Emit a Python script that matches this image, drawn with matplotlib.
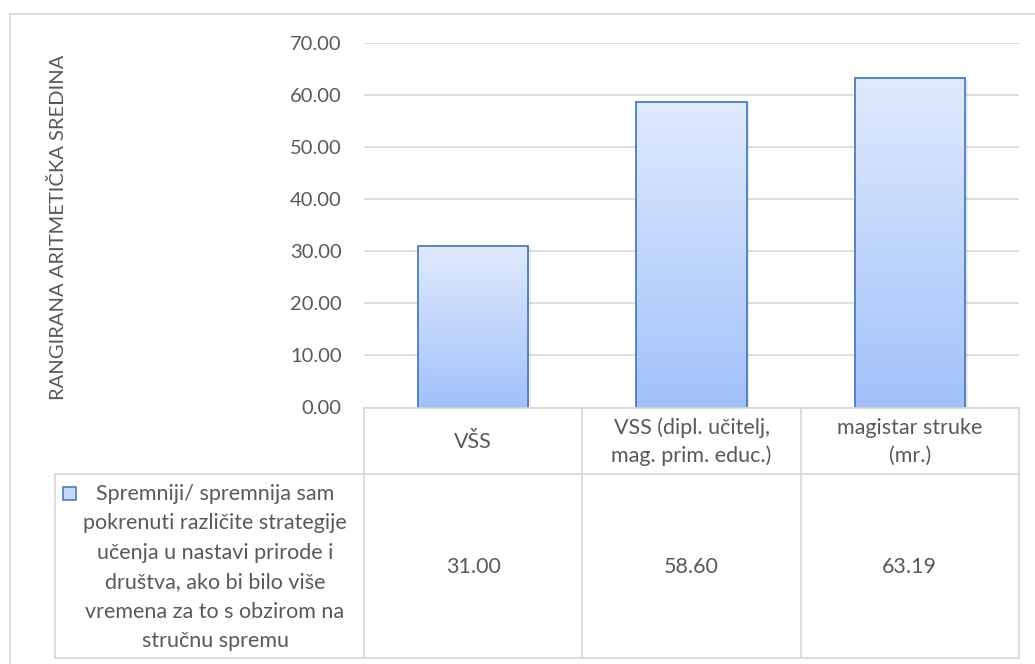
import numpy as np
import matplotlib.pyplot as plt
from matplotlib.patches import Rectangle
from matplotlib.lines import Line2D
from matplotlib.colors import LinearSegmentedColormap

# podaci
categories = ["VŠS", "VSS (dipl. učitelj,\nmag. prim. educ.)", "magistar struke\n(mr.)"]
values = [31.00, 58.60, 63.19]
y_ticks = [0, 10, 20, 30, 40, 50, 60, 70]
y_label = "RANGIRANA ARITMETIČKA SREDINA"
series_name = ["Spremniji/ spremnija sam", "pokrenuti različite strategije",
               "učenja u nastavi prirode i", "društva, ako bi bilo više",
               "vremena za to s obzirom na", "stručnu spremu"]

W, H = 1035, 664
txt = "#595959"
grid = "#d9d9d9"
edge = "#4a7ebb"
plt.rcParams['font.family'] = ['Lato', 'DejaVu Sans']

fig = plt.figure(figsize=(W / 100, H / 100), dpi=100)

def fx(x):
    return x / W

def fy(y):
    return 1 - y / H

# os grafa
left, right, top, bottom = 364, 1019, 43, 407.5
ax = fig.add_axes([fx(left), fy(bottom), fx(right) - fx(left), fy(top) - fy(bottom)])
x = np.arange(len(values))
bars = ax.bar(x, values, width=0.505, facecolor="none", edgecolor=edge, linewidth=1.3, zorder=3)

# gradijent u stupcima
grad = np.linspace(0, 1, 256).reshape(-1, 1)
cmap = LinearSegmentedColormap.from_list("g", ["#a2c1fb", "#e0eafd"])
for b in bars:
    bx, bw, bh = b.get_x(), b.get_width(), b.get_height()
    ax.add_patch(Rectangle((bx + 0.012, -0.3), bw, bh, facecolor="#000000", alpha=0.08,
                           edgecolor="none", zorder=1.5))
    im = ax.imshow(grad, extent=[bx, bx + bw, 0, bh], origin="lower", cmap=cmap,
                   aspect="auto", zorder=2)
    im.set_clip_path(b)

ax.set_xlim(-0.5, len(values) - 0.5)
ax.set_ylim(0, 70)
ax.set_yticks(y_ticks)
ax.set_yticklabels(["%.2f" % t for t in y_ticks], color=txt, fontsize=14.5)
ax.tick_params(axis="y", length=0, pad=16)
ax.set_xticks([])
for s in ax.spines.values():
    s.set_visible(False)
ax.grid(axis="y", color=grid, linewidth=1.2, zorder=0)
ax.set_axisbelow(True)

fig.text(fx(58), fy(227), y_label, rotation=90, ha="center", va="center",
         color=txt, fontsize=14.5)

# tablica podataka
row1, row2, row3 = 407.5, 474, 658
cols = [left + (right - left) * i / len(values) for i in range(len(values) + 1)]

def line(x0, y0, x1, y1):
    fig.add_artist(Line2D([fx(x0), fx(x1)], [fy(y0), fy(y1)], color=grid, linewidth=1.3))

line(left, row1, right, row1)
line(55, row2, right, row2)
line(55, row3, right, row3)
line(55, row2, 55, row3)
for c in cols:
    line(c, row1, c, row3)

for i, (cat, v) in enumerate(zip(categories, values)):
    cx = (cols[i] + cols[i + 1]) / 2
    fig.text(fx(cx), fy((row1 + row2) / 2 + 1), cat, ha="center", va="center",
             color=txt, fontsize=15.5, linespacing=1.5)
    fig.text(fx(cx), fy((row2 + row3) / 2 + 1), "%.2f" % v, ha="center", va="center",
             color=txt, fontsize=15.5)

# legenda u tablici
for j, s in enumerate(series_name):
    fig.text(fx(215), fy(494 + j * 29.4), s, ha="center", va="center",
             color=txt, fontsize=15.5)
fig.add_artist(Rectangle((fx(63), fy(500)), fx(13), 13 / H, facecolor="#c5d8fb",
                         edgecolor=edge, linewidth=1.2, transform=fig.transFigure))

# okvir
line(10, 14, W, 14)
line(10, 14, 10, H)

fig.savefig("out.png", dpi=100)
